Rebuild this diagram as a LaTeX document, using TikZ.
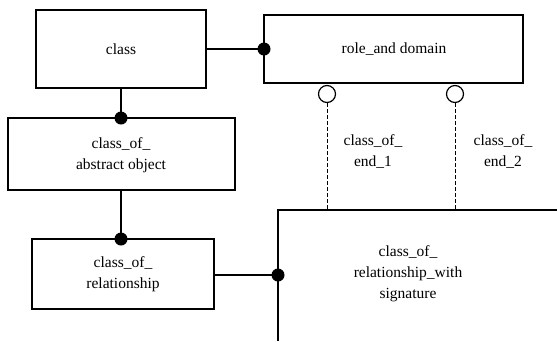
\documentclass[tikz,border=0pt]{standalone}
\usepackage{fontspec}
\setmainfont{Liberation Serif}
\begin{document}
\begin{tikzpicture}[x=1pt,y=-1pt,
  box/.style={draw,line width=2pt,inner sep=0pt},
  lbl/.style={font=\fontsize{15.5}{21}\selectfont,align=center},
  link/.style={line width=2.6pt},
  dot/.style={circle,fill,inner sep=0pt,minimum size=13pt},
  ring/.style={circle,draw,line width=1.2pt,fill=white,inner sep=0pt,minimum size=17pt},
  ref/.style={line width=1pt,dash pattern=on 3.5pt off 2.5pt}]
\useasboundingbox (0,0) rectangle (557,341);
% entity boxes
\draw[box] (36,10) rectangle (206,88);
\node[lbl] (cls) at (121,49) {class};
\coordinate (clsR) at (206,49);
\coordinate (clsB) at (121,88);
\draw[box] (264,15) rectangle (523,83);
\node[lbl] (rad) at (394,49) {role\_and domain};
\coordinate (radL) at (264,49);
\draw[box] (8,118) rectangle (235,190);
\node[lbl] (coao) at (121,155) {class\_of\_\\abstract object};
\coordinate (coaoT) at (121,118);
\coordinate (coaoB) at (121,190);
\draw[box] (32,239) rectangle (214,309);
\node[lbl] (cor) at (123,274) {class\_of\_\\relationship};
\coordinate (corT) at (121,239);
\coordinate (corR) at (214,275);
% open box running off the page
\draw[box] (557,210) -- (278,210) -- (278,341);
\node[lbl] (corws) at (408,274) {class\_of\_\\relationship\_with\\signature};
\coordinate (corwsL) at (278,275);
\coordinate (e1B) at (327,210);
\coordinate (e2B) at (455,210);
% connectors
\draw[link] (clsR) -- (radL);
\node[dot] at (radL) {};
\draw[link] (clsB) -- (coaoT);
\node[dot] at (coaoT) {};
\draw[link] (coaoB) -- (corT);
\node[dot] at (corT) {};
\draw[link] (corR) -- (corwsL);
\node[dot] at (corwsL) {};
% optional role references
\node[ring] (r1) at (327,94) {};
\node[ring] (r2) at (455,94) {};
\draw[ref] (r1.south) -- (e1B);
\draw[ref] (r2.south) -- (e2B);
\node[lbl] (e1) at (373,152) {class\_of\_\\end\_1};
\node[lbl] (e2) at (503,152) {class\_of\_\\end\_2};
\end{tikzpicture}
\end{document}
